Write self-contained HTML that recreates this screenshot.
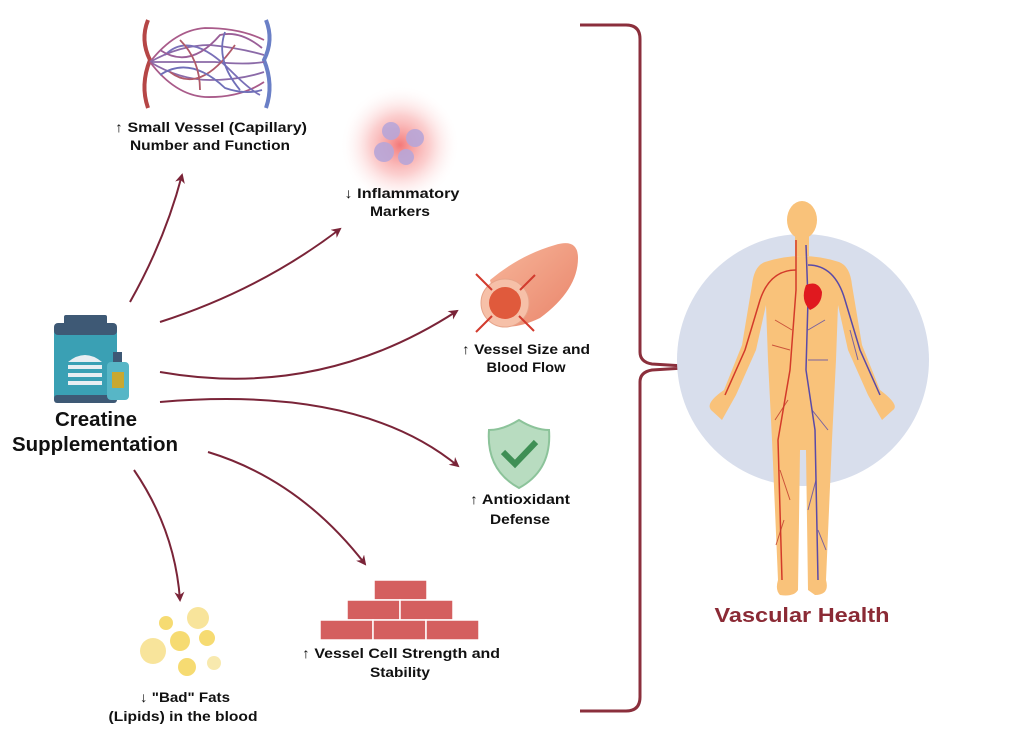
<!DOCTYPE html>
<html><head><meta charset="utf-8"><style>
html,body{margin:0;padding:0;background:#fff;width:1024px;height:736px;overflow:hidden}
svg{display:block}
text{font-family:"Liberation Sans",sans-serif;font-weight:bold;fill:#111}
</style></head><body>
<svg width="1024" height="736" viewBox="0 0 1024 736">
<defs>
<marker id="ah" markerWidth="10" markerHeight="10" refX="8" refY="5" orient="auto" markerUnits="userSpaceOnUse">
<path d="M0,0 L10,5 L0,10 L3,5 Z" fill="#7a2438"/></marker>
<radialGradient id="glow"><stop offset="0" stop-color="#f26a6a" stop-opacity=".9"/><stop offset=".5" stop-color="#f8a0a0" stop-opacity=".5"/><stop offset="1" stop-color="#fff" stop-opacity="0"/></radialGradient>
<linearGradient id="tube" x1="0" y1="0" x2="1" y2="1"><stop offset="0" stop-color="#f7b69a"/><stop offset="1" stop-color="#e9846a"/></linearGradient>
</defs>

<!-- bracket -->
<path d="M580,25 H626 Q640,25 640,39 V352 Q640,362 652,364 L700,367 L652,370 Q640,372 640,382 V697 Q640,711 626,711 H580" fill="none" stroke="#8b2f3c" stroke-width="3"/>

<!-- arrows -->
<g fill="none" stroke="#7a2438" stroke-width="2" marker-end="url(#ah)">
<path d="M130,302 Q165,240 182,175"/>
<path d="M160,322 Q260,290 340,229"/>
<path d="M160,372 Q320,400 457,311"/>
<path d="M160,402 Q360,385 458,466"/>
<path d="M208,452 Q300,480 365,564"/>
<path d="M134,470 Q175,530 180,600"/>
</g>

<!-- capillary -->
<g fill="none" stroke-width="4">
<path d="M148,20 Q140,40 150,60 Q140,85 148,108" stroke="#b54646"/>
<path d="M266,20 Q274,40 264,60 Q274,85 266,108" stroke="#6a7fc6"/>
</g>
<g fill="none" stroke-width="1.8">
<path d="M150,62 Q175,30 205,28 Q240,28 264,40" stroke="#a95b8a"/>
<path d="M150,62 Q180,45 210,45 Q240,48 264,55" stroke="#8b6aa8"/>
<path d="M150,62 Q185,62 215,62 Q245,65 264,62" stroke="#8b6aa8"/>
<path d="M150,62 Q180,80 210,80 Q240,80 264,72" stroke="#8b6aa8"/>
<path d="M150,62 Q175,95 205,97 Q240,98 264,82" stroke="#a95b8a"/>
<path d="M165,55 Q190,30 230,70 Q250,90 260,95" stroke="#7a70b8"/>
<path d="M170,72 Q200,95 235,45" stroke="#b05a6a"/>
<path d="M160,50 Q190,70 220,35 Q240,30 262,48" stroke="#9a5f98"/>
<path d="M160,75 Q190,55 225,88 Q245,95 262,90" stroke="#6f6fb8"/>
<path d="M180,40 Q200,60 200,90" stroke="#b05a6a"/>
<path d="M225,32 Q215,60 240,90" stroke="#6f6fb8"/>
</g>
<text x="211" y="132" font-size="14" text-anchor="middle" textLength="192" lengthAdjust="spacingAndGlyphs">↑ Small Vessel (Capillary)</text>
<text x="210" y="150" font-size="14" text-anchor="middle" textLength="160" lengthAdjust="spacingAndGlyphs">Number and Function</text>

<!-- inflammation -->
<circle cx="400" cy="145" r="60" fill="url(#glow)"/>
<g fill="#b8a6d8" opacity=".9"><circle cx="391" cy="131" r="9"/><circle cx="415" cy="138" r="9"/><circle cx="384" cy="152" r="10"/><circle cx="406" cy="157" r="8"/></g>
<text x="402" y="198" font-size="14" text-anchor="middle" textLength="115" lengthAdjust="spacingAndGlyphs">↓ Inflammatory</text>
<text x="400" y="216" font-size="14" text-anchor="middle" textLength="60" lengthAdjust="spacingAndGlyphs">Markers</text>

<!-- vessel tube -->
<path d="M490,280 Q520,255 555,245 Q578,238 578,258 Q578,290 540,318 Q515,330 500,325 Z" fill="url(#tube)"/>
<circle cx="505" cy="303" r="24" fill="#f6c0a8" stroke="#e7a48a"/>
<circle cx="505" cy="303" r="16" fill="#e05a3c"/>
<g stroke="#d23b2e" stroke-width="2"><line x1="492" y1="290" x2="476" y2="274"/><line x1="520" y1="290" x2="535" y2="275"/><line x1="492" y1="316" x2="476" y2="332"/><line x1="519" y1="316" x2="534" y2="331"/></g>
<text x="526" y="354" font-size="14" text-anchor="middle" textLength="128" lengthAdjust="spacingAndGlyphs">↑ Vessel Size and</text>
<text x="526" y="372" font-size="14" text-anchor="middle" textLength="79" lengthAdjust="spacingAndGlyphs">Blood Flow</text>

<!-- shield -->
<path d="M519,420 Q535,430 549,430 Q552,470 519,488 Q486,470 489,430 Q503,430 519,420 Z" fill="#b8dcc0" stroke="#8cc39a" stroke-width="2"/>
<path d="M503,452 L515,464 L536,442" fill="none" stroke="#3f8f55" stroke-width="6"/>
<text x="520" y="504" font-size="14" text-anchor="middle" textLength="100" lengthAdjust="spacingAndGlyphs">↑ Antioxidant</text>
<text x="520" y="524" font-size="14" text-anchor="middle" textLength="60" lengthAdjust="spacingAndGlyphs">Defense</text>

<!-- bricks -->
<g fill="#d45f5f" stroke="#fff" stroke-width="1.5">
<rect x="374" y="580" width="53" height="20"/>
<rect x="347" y="600" width="53" height="20"/><rect x="400" y="600" width="53" height="20"/>
<rect x="320" y="620" width="53" height="20"/><rect x="373" y="620" width="53" height="20"/><rect x="426" y="620" width="53" height="20"/>
</g>
<text x="401" y="658" font-size="14" text-anchor="middle" textLength="198" lengthAdjust="spacingAndGlyphs">↑ Vessel Cell Strength and</text>
<text x="400" y="677" font-size="14" text-anchor="middle" textLength="60" lengthAdjust="spacingAndGlyphs">Stability</text>

<!-- fats -->
<g fill="#f5d55a" opacity=".85"><circle cx="166" cy="623" r="7"/><circle cx="198" cy="618" r="11" fill="#f7e08a"/><circle cx="180" cy="641" r="10"/><circle cx="207" cy="638" r="8"/><circle cx="153" cy="651" r="13" fill="#f7e08a"/><circle cx="187" cy="667" r="9"/><circle cx="214" cy="663" r="7" fill="#f7e6a0"/></g>
<text x="185" y="702" font-size="14" text-anchor="middle" textLength="90" lengthAdjust="spacingAndGlyphs">↓ "Bad" Fats</text>
<text x="183" y="721" font-size="14" text-anchor="middle" textLength="149" lengthAdjust="spacingAndGlyphs">(Lipids) in the blood</text>

<!-- jar -->
<rect x="64" y="315" width="43" height="10" rx="2" fill="#3e5975"/>
<rect x="54" y="323" width="63" height="80" rx="6" fill="#3aa0b4"/>
<rect x="54" y="323" width="63" height="12" rx="4" fill="#3e5975"/>
<rect x="54" y="395" width="63" height="8" rx="3" fill="#3e5975"/>
<path d="M68,362 Q85,348 102,362 Z" fill="#e8eef2"/>
<g fill="#e8eef2"><rect x="68" y="365" width="34" height="4"/><rect x="68" y="373" width="34" height="4"/><rect x="68" y="381" width="34" height="4"/></g>
<rect x="113" y="352" width="9" height="12" fill="#3e5975"/>
<rect x="107" y="362" width="22" height="38" rx="4" fill="#57b6c6"/>
<rect x="112" y="372" width="12" height="16" fill="#c9a830"/>
<text x="96" y="426" font-size="20" text-anchor="middle" textLength="82" lengthAdjust="spacingAndGlyphs">Creatine</text>
<text x="95" y="451" font-size="20" text-anchor="middle" textLength="166" lengthAdjust="spacingAndGlyphs">Supplementation</text>

<!-- body -->
<circle cx="803" cy="360" r="126" fill="#d8deec"/>
<g fill="#f9c27a">
<ellipse cx="802" cy="220" rx="15" ry="19"/>
<rect x="795" y="234" width="14" height="22"/>
<path d="M765,262 Q802,250 839,262 Q850,266 852,285 L862,345 L880,390 Q900,405 893,410 L882,420 L868,395 L848,350 L838,305 L836,360 L832,440 L826,580 Q830,595 815,595 L808,590 L806,450 L800,450 L798,590 Q794,597 780,595 Q775,590 778,580 L772,440 L768,360 L766,305 L756,350 L736,395 L722,420 L711,410 Q705,403 724,390 L742,345 L752,285 Q754,266 765,262 Z"/>
</g>
<g fill="none" stroke-width="1.5">
<path d="M796,240 L796,290 L790,370 L778,440 L782,580" stroke="#d33a2a"/>
<path d="M796,270 Q770,270 760,300 L745,350 L725,395" stroke="#d33a2a"/>
<path d="M806,245 L808,300 L806,370 L815,430 L818,580" stroke="#5a4aa8"/>
<path d="M808,265 Q835,265 845,300 L860,350 L880,395" stroke="#5a4aa8"/>
</g>
<g fill="none" stroke-width="1" opacity=".8">
<path d="M792,330 L775,320 M790,350 L772,345 M788,400 L775,420 M780,470 L790,500 M784,520 L776,545" stroke="#c0392b"/>
<path d="M808,330 L825,320 M808,360 L828,360 M812,410 L828,430 M816,480 L808,510 M818,530 L826,550 M850,330 L858,360" stroke="#5a4aa8"/>
</g>
<path d="M806,285 Q818,280 822,292 Q822,305 810,310 Q800,300 806,285 Z" fill="#e0191f"/>
<text x="802" y="622" font-size="20" text-anchor="middle" style="fill:#8b2a35" textLength="175" lengthAdjust="spacingAndGlyphs">Vascular Health</text>
</svg>
</body></html>
